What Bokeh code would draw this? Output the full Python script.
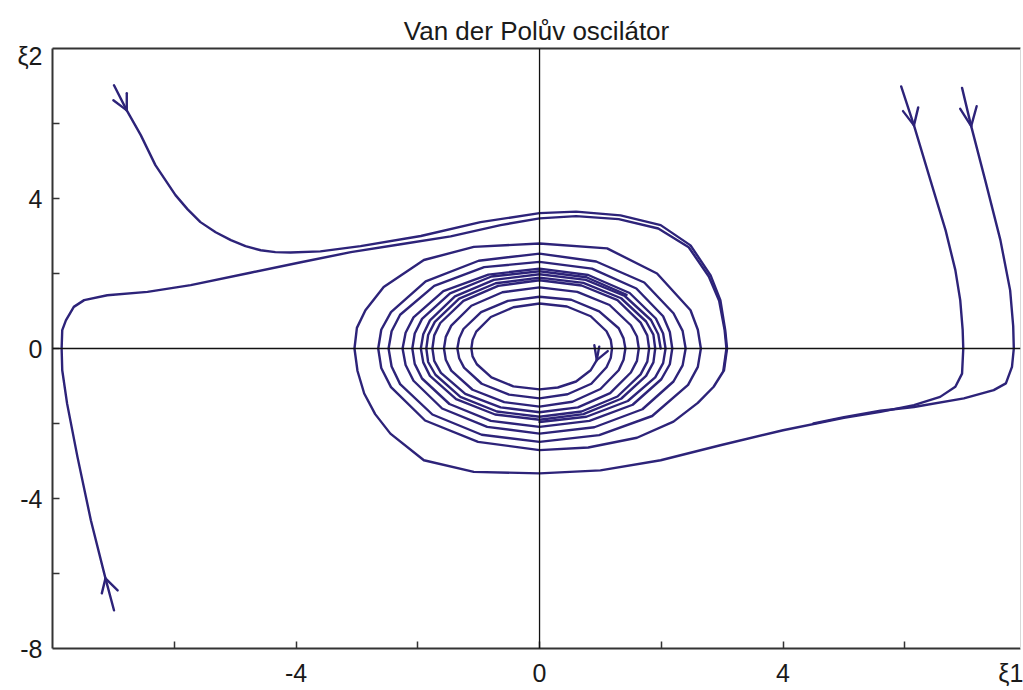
from bokeh.plotting import figure
from bokeh.models import Range1d, FixedTicker, Span, LinearAxis, Title
from bokeh.embed import file_html
from bokeh.resources import INLINE

TITLE = "Van der Polův oscilátor"
X_TICKS = [-4, 0, 4]
Y_TICKS = [-8, -4, 0, 4]
MINOR_TICKS = [-6, -4, -2, 0, 2, 4, 6]
X_NAME = "ξ1"
Y_NAME = "ξ2"
X_NAME_POS = 7.74
Y_NAME_POS = 7.8

# trajectory starting top-left
traj_a = [(-6.99, 7.02), (-6.78, 6.35), (-6.55, 5.69), (-6.31, 4.89), (-5.98, 4.09), (-5.78, 3.71),
          (-5.57, 3.37), (-5.32, 3.1), (-5.07, 2.89), (-4.83, 2.73), (-4.58, 2.62), (-4.34, 2.57),
          (-4.09, 2.56), (-3.6, 2.59), (-2.94, 2.73), (-1.95, 3.0),
          (-0.97, 3.37), (0.0, 3.61), (0.6, 3.65), (1.33, 3.55), (1.99, 3.29), (2.48, 2.75),
          (2.81, 1.95), (2.97, 1.29), (3.05, 0.49), (3.08, 0.0), (3.03, -0.58), (2.86, -1.02),
          (2.6, -1.45), (2.2, -1.95), (1.6, -2.38), (0.8, -2.64), (0.0, -2.71),
          (-1.01, -2.49), (-1.88, -1.92), (-2.44, -1.03), (-2.6, -0.52), (-2.65, 0.0),
          (-2.6, 0.5), (-2.44, 0.97), (-1.87, 1.79), (-1.0, 2.34), (0.0, 2.53),
          (0.93, 2.32), (1.72, 1.76), (2.2, 0.94), (2.35, 0.47), (2.4, 0.0),
          (2.35, -0.45), (2.2, -0.88), (1.69, -1.62), (0.9, -2.1), (0.0, -2.27),
          (-0.86, -2.09), (-1.6, -1.6), (-2.07, -0.86), (-2.2, -0.44), (-2.25, 0.0),
          (-2.2, 0.42), (-2.07, 0.83), (-1.58, 1.53), (-0.84, 1.97), (0.0, 2.13),
          (0.8, 1.96), (1.48, 1.48), (1.91, 0.8), (2.03, 0.4), (2.07, 0.0),
          (2.03, -0.39), (1.9, -0.77), (1.45, -1.4), (0.77, -1.82), (0.0, -1.96)]

# trajectory starting bottom-left
traj_b = [(-6.99, -6.98), (-7.13, -6.13), (-7.37, -4.58), (-7.59, -2.89), (-7.76, -1.47),
          (-7.84, -0.58), (-7.85, 0.0), (-7.84, 0.49), (-7.78, 0.75), (-7.65, 1.11), (-7.48, 1.29),
          (-7.1, 1.42), (-6.44, 1.51), (-5.73, 1.69), (-4.75, 2.02), (-3.92, 2.3), (-3.1, 2.57),
          (-2.28, 2.78), (-1.46, 2.99), (-0.64, 3.29), (0.0, 3.47), (0.6, 3.53), (1.3, 3.45),
          (1.95, 3.2), (2.45, 2.7), (2.78, 1.92), (2.95, 1.27), (3.04, 0.49), (3.07, 0.0),
          (3.02, -0.58)]

# trajectory starting top-right (inner)
traj_c = [(5.94, 6.99), (6.15, 5.95), (6.42, 4.49), (6.67, 3.15), (6.83, 2.09), (6.91, 1.29),
          (6.95, 0.5), (6.96, 0.0), (6.94, -0.67), (6.83, -1.02), (6.58, -1.29), (6.15, -1.51),
          (5.6, -1.69), (5.0, -1.85), (4.0, -2.18), (2.97, -2.58), (1.99, -2.98), (1.0, -3.25),
          (0.0, -3.33), (-1.08, -3.29), (-1.9, -2.98), (-2.45, -2.27), (-2.7, -1.75),
          (-2.88, -1.2), (-2.99, -0.6), (-3.04, 0.0), (-3.0, 0.55), (-2.86, 1.02), (-2.56, 1.64),
          (-1.9, 2.36), (-1.08, 2.71), (0.0, 2.8), (1.11, 2.67), (1.93, 2.0), (2.48, 1.02),
          (2.6, 0.5), (2.65, 0.0), (2.6, -0.49), (2.44, -0.97), (1.85, -1.8), (0.98, -2.31),
          (0.0, -2.49), (-0.95, -2.3), (-1.76, -1.76), (-2.29, -0.95), (-2.43, -0.48), (-2.48, 0.0),
          (-2.43, 0.46), (-2.29, 0.9), (-1.73, 1.67), (-0.91, 2.17), (0.0, 2.31),
          (0.86, 2.13), (1.59, 1.6), (2.03, 0.86), (2.14, 0.44), (2.18, 0.0),
          (2.14, -0.42), (2.0, -0.82), (1.53, -1.5), (0.82, -1.93), (0.0, -2.09),
          (-0.8, -1.93), (-1.48, -1.48), (-1.93, -0.8), (-2.05, -0.41), (-2.09, 0.0),
          (-2.05, 0.4), (-1.93, 0.79), (-1.47, 1.47), (-0.79, 1.92), (0.0, 2.06), (0.77, 1.9),
          (1.43, 1.43)]

# trajectory starting top-right (outer)
traj_d = [(6.94, 6.95), (7.09, 5.93), (7.32, 4.49), (7.57, 2.89), (7.73, 1.55), (7.78, 0.6),
          (7.79, 0.0), (7.76, -0.49), (7.66, -0.93), (7.46, -1.11), (6.97, -1.33), (6.15, -1.56),
          (5.6, -1.66), (5.0, -1.83), (4.5, -2.0)]

# trajectory starting near the origin
traj_e = [(0.98, 0.05), (0.94, -0.31), (0.84, -0.58), (0.6, -0.88), (0.3, -1.04), (0.0, -1.09),
          (-0.43, -1.01), (-0.79, -0.77), (-1.03, -0.42), (-1.1, -0.21), (-1.12, 0.0),
          (-1.1, 0.23), (-1.04, 0.45), (-0.8, 0.84), (-0.43, 1.1), (0.0, 1.2),
          (0.45, 1.12), (0.84, 0.86), (1.1, 0.46), (1.17, 0.23), (1.19, 0.0),
          (1.17, -0.25), (1.1, -0.5), (0.85, -0.94), (0.46, -1.22), (0.0, -1.33),
          (-0.5, -1.23), (-0.95, -0.94), (-1.24, -0.51), (-1.32, -0.26), (-1.35, 0.0),
          (-1.32, 0.27), (-1.25, 0.52), (-0.96, 0.97), (-0.52, 1.27), (0.0, 1.38),
          (0.52, 1.3), (0.98, 0.99), (1.3, 0.54), (1.38, 0.27), (1.41, 0.0),
          (1.38, -0.3), (1.3, -0.58), (1.0, -1.08), (0.54, -1.42), (0.0, -1.55),
          (-0.58, -1.43), (-1.1, -1.1), (-1.45, -0.59), (-1.54, -0.3), (-1.57, 0.0),
          (-1.54, 0.31), (-1.45, 0.61), (-1.12, 1.14), (-0.61, 1.5), (0.0, 1.63),
          (0.62, 1.51), (1.15, 1.16), (1.5, 0.62), (1.6, 0.32), (1.63, 0.0),
          (1.6, -0.33), (1.5, -0.64), (1.16, -1.19), (0.63, -1.57), (0.0, -1.7),
          (-0.64, -1.57), (-1.22, -1.21), (-1.62, -0.65), (-1.73, -0.33), (-1.76, 0.0),
          (-1.73, 0.35), (-1.63, 0.68), (-1.25, 1.27), (-0.68, 1.67), (0.0, 1.82),
          (0.69, 1.68), (1.28, 1.29), (1.66, 0.69), (1.77, 0.35), (1.8, 0.0),
          (1.77, -0.35), (1.66, -0.69), (1.28, -1.28), (0.69, -1.68), (0.0, -1.82),
          (-0.7, -1.68), (-1.3, -1.29), (-1.71, -0.7), (-1.83, -0.36), (-1.86, 0.0),
          (-1.83, 0.36), (-1.72, 0.71), (-1.32, 1.33), (-0.72, 1.74), (0.0, 1.89),
          (0.72, 1.75), (1.34, 1.34), (1.75, 0.72), (1.87, 0.37), (1.9, 0.0),
          (1.87, -0.37), (1.75, -0.73), (1.34, -1.34), (0.72, -1.75), (0.0, -1.9),
          (-0.73, -1.76), (-1.37, -1.35), (-1.8, -0.73), (-1.91, -0.37), (-1.95, 0.0),
          (-1.91, 0.38), (-1.8, 0.75), (-1.39, 1.39), (-0.75, 1.83), (0.0, 1.98),
          (0.76, 1.83), (1.4, 1.4), (1.83, 0.76), (1.95, 0.38), (1.99, 0.0)]

# arrow heads: tip, arm 1 end, arm 2 end
arrow_tip_x = [-6.78, 6.15, 7.09, -7.13, 0.94]
arrow_tip_y = [6.35, 5.95, 5.93, -6.13, -0.31]
arm1_x = [-6.78, 5.97, 6.91, -7.19, 0.90]
arm1_y = [6.81, 6.33, 6.39, -6.53, 0.09]
arm2_x = [-7.0, 6.22, 7.18, -6.93, 1.12]
arm2_y = [6.62, 6.43, 6.46, -6.45, -0.07]

LINE = "#2d2379"
FONT = "Liberation Sans"
TEXT = "#1a1a1a"
AXIS = "#333333"

p = figure(width=1023, height=690, output_backend="svg", toolbar_location=None,
           x_range=Range1d(-8, 7.9), y_range=Range1d(-8, 8),
           min_border_left=52, min_border_right=3, min_border_top=48, min_border_bottom=42,
           background_fill_color="white", border_fill_color="white")
p.title = None
p.grid.visible = False
p.outline_line_color = None

x_ax = p.xaxis[0]
y_ax = p.yaxis[0]
x_ax.ticker = FixedTicker(ticks=X_TICKS + [X_NAME_POS], minor_ticks=MINOR_TICKS)
y_ax.ticker = FixedTicker(ticks=Y_TICKS + [Y_NAME_POS], minor_ticks=MINOR_TICKS)
x_over = {t: str(t) for t in X_TICKS}
x_over[X_NAME_POS] = X_NAME
y_over = {t: str(t) for t in Y_TICKS}
y_over[Y_NAME_POS] = Y_NAME
x_ax.major_label_overrides = x_over
y_ax.major_label_overrides = y_over

for ax in (x_ax, y_ax):
    ax.major_tick_in = 0
    ax.major_tick_out = 0
    ax.minor_tick_in = 7
    ax.minor_tick_out = 0
    ax.axis_line_color = AXIS
    ax.axis_line_width = 2
    ax.minor_tick_line_color = AXIS
    ax.minor_tick_line_width = 1.5
    ax.major_label_text_font = FONT
    ax.major_label_text_font_size = "25px"
    ax.major_label_text_color = TEXT
    ax.major_label_standoff = 10

top_axis = LinearAxis(ticker=FixedTicker(ticks=[]), axis_line_color=AXIS, axis_line_width=2,
                      major_tick_in=0, major_tick_out=0, minor_tick_in=0, minor_tick_out=0,
                      major_label_text_font_size="0px", major_label_standoff=0)
p.add_layout(top_axis, "above")
right_axis = LinearAxis(ticker=FixedTicker(ticks=[]), axis_line_color="#d8d8d8", axis_line_width=1,
                        major_tick_in=0, major_tick_out=0, minor_tick_in=0, minor_tick_out=0,
                        major_label_text_font_size="0px", major_label_standoff=0)
p.add_layout(right_axis, "right")
p.add_layout(Title(text=TITLE, align="center", text_font=FONT, text_font_size="26px",
                   text_font_style="normal", text_color=TEXT, standoff=6), "above")

p.add_layout(Span(location=0, dimension="height", line_color="#111111", line_width=1.3))
p.add_layout(Span(location=0, dimension="width", line_color="#111111", line_width=1.3))

for traj in (traj_a, traj_b, traj_c, traj_d, traj_e):
    p.line([q[0] for q in traj], [q[1] for q in traj], line_color=LINE, line_width=2.4,
           line_join="round", line_cap="round")

p.segment(arrow_tip_x, arrow_tip_y, arm1_x, arm1_y, line_color=LINE, line_width=2.4, line_cap="round")
p.segment(arrow_tip_x, arrow_tip_y, arm2_x, arm2_y, line_color=LINE, line_width=2.4, line_cap="round")

open("out.html", "w").write(file_html(p, INLINE))
